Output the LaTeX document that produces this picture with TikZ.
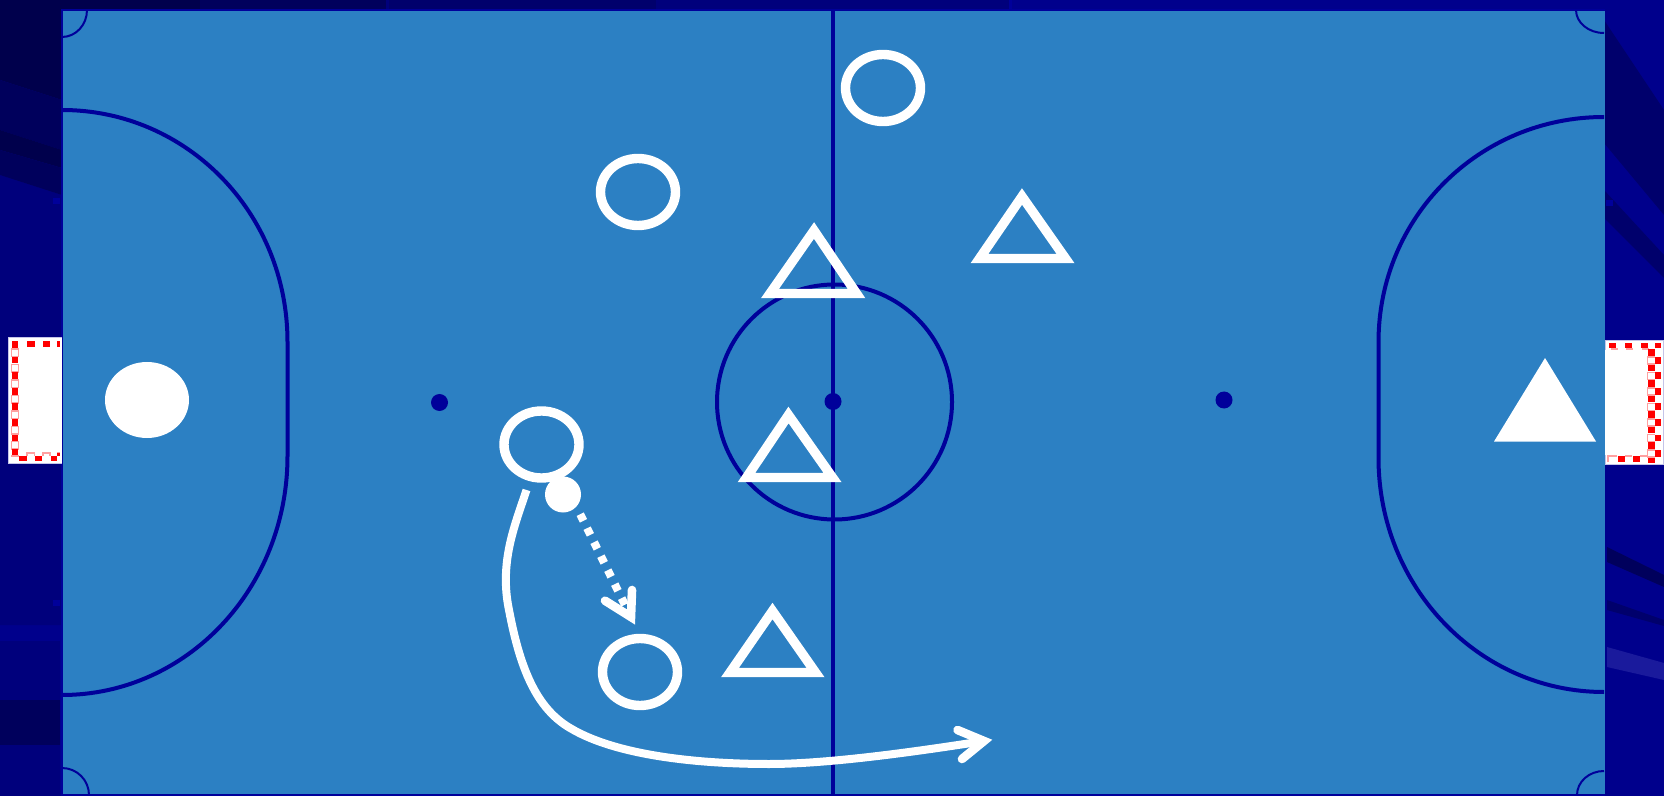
\documentclass[tikz,border=0pt]{standalone}
\usetikzlibrary{shapes.geometric}
\definecolor{fieldc}{HTML}{2C80C3}
\definecolor{linec}{HTML}{00009A}
\definecolor{bgc}{HTML}{00008C}
\definecolor{pinkc}{HTML}{FFA0A0}
\definecolor{framec}{HTML}{C4C4E8}
\definecolor{bga}{HTML}{00004C}
\definecolor{bgb}{HTML}{00005C}
\definecolor{bgd}{HTML}{00006C}
\definecolor{bge}{HTML}{00007C}
\definecolor{bgf}{HTML}{1A1A9C}
\tikzset{
  x=0.5pt,y=-0.5pt,
  courtline/.style={draw=linec,line width=2pt},
  thinline/.style={draw=linec,line width=1pt},
  player/.style={ellipse,draw=white,line width=4.7pt,minimum width=37.5pt,minimum height=33.5pt,inner sep=0pt,outer sep=0pt},
  keeper/.style={ellipse,fill=white,minimum width=42pt,minimum height=38pt,inner sep=0pt,outer sep=0pt},
  ballnode/.style={circle,fill=white,minimum size=18pt,inner sep=0pt,outer sep=0pt},
  spot/.style={circle,fill=linec,minimum size=8.5pt,inner sep=0pt,outer sep=0pt},
  opp/.style={draw=white,line width=4.7pt,miter limit=10,line join=miter},
  run/.style={draw=white,line width=4pt},
  head/.style={draw=white,line width=4.3pt,line cap=round,line join=miter,miter limit=10},
}
\newcommand{\rsq}[4]{\fill[red] (#1,#2) rectangle (#3,#4);}
\newcommand{\psq}[4]{\draw[pinkc,line width=0.8pt] (#1,#2) rectangle (#3,#4);}
\begin{document}
\begin{tikzpicture}
\useasboundingbox (0,0) rectangle (1664,796);
% backdrop
\fill[bgc] (0,0) rectangle (1664,796);
\fill[bge] (0,175) -- (62,195) -- (62,625) -- (0,625) -- cycle;
\fill[bge] (0,641) rectangle (60,796);
\fill[bga] (0,0) -- (62,0) -- (62,100) -- (0,80) -- cycle;
\fill[bgb] (0,80) -- (62,100) -- (62,150) -- (0,130) -- cycle;
\fill[bga] (0,130) -- (62,150) -- (62,168) -- (0,150) -- cycle;
\fill[bgb] (0,150) -- (62,168) -- (62,195) -- (0,175) -- cycle;
\fill[bgb] (0,700) rectangle (60,745);
\fill[bga] (62,0) rectangle (200,10);
\fill[bgb] (200,0) rectangle (386,10);
\fill[bgd] (386,0) rectangle (657,10);
\fill[bge] (657,0) rectangle (1010,10);
\fill[bge] (386,0) rectangle (389,10);
\fill[bge] (656,0) rectangle (659,10);
\fill[linec] (1009,0) rectangle (1012,10);
\fill[bgd] (1604,20) -- (1664,110) -- (1664,215) -- (1604,143) -- cycle;
\fill[bgd] (1604,190) -- (1664,255) -- (1664,278) -- (1604,218) -- cycle;
\fill[bgb] (1607,547) -- (1664,575) -- (1664,587) -- (1607,562) -- cycle;
\fill[bgd] (1607,600) -- (1664,620) -- (1664,626) -- (1607,610) -- cycle;
\fill[bgf] (1607,647) -- (1664,663) -- (1664,680) -- (1607,667) -- cycle;
\fill[linec] (53,198) rectangle (60,204);
\fill[linec] (53,600) rectangle (60,606);
\fill[linec] (1606,200) rectangle (1613,206);
% field
\fill[fieldc] (62,10) rectangle (1604.5,795);
\draw[linec,line width=1pt] (1604.5,10) -- (62,10) -- (62,795) -- (1604.5,795);
% goals
\fill[white] (8,338) rectangle (62,463);
\draw[framec,line width=0.5pt] (62,338) -- (8,338) -- (8,463) -- (62,463);
\foreach \y in {349,364.5,380,395.5,411,426.5,441.5}{\psq{11.5}{\y}{18.5}{\y+7.5}}
\foreach \y in {341.3,356.7,372,388,403.5,419,434.5,448.5}{\rsq{11.7}{\y}{18.3}{\y+6.8}}
\rsq{27.3}{341.3}{34.7}{347.5}\rsq{43}{341.3}{50}{347.5}\rsq{57}{341.3}{60}{347.5}
\draw[pinkc,line width=0.8pt] (11,456) -- (19,456) (27,456) -- (27,453) -- (34.5,453) -- (34.5,456) (43,456) -- (43,453) -- (50,453) -- (50,456) (57.5,456) -- (57.5,453) -- (60,453);
\rsq{19.3}{456}{26.7}{461}\rsq{35}{456}{42}{461}\rsq{50.5}{456}{57}{461}\rsq{57}{453}{60}{456}
\fill[white] (1604.5,341) rectangle (1664,464);
\draw[framec,line width=0.5pt] (1605,350) -- (1605,341) -- (1663.5,341) -- (1663.5,464) -- (1605,464) -- (1605,455);
\foreach \x in {1609,1625,1641}{\rsq{\x}{343}{\x+7.4}{348.5}}
\rsq{1655}{343}{1661}{348.5}
\foreach \x in {1611,1626,1642}{\draw[pinkc,line width=0.8pt] (\x,349) -- (\x+7,349);}
\foreach \y in {349,364.5,380,395.5,411,426.5,442,456.5}{\rsq{1648}{\y}{1655}{\y+6.8}}
\foreach \y in {357,372.5,388,403.5,419,434.5,450}{\rsq{1655}{\y}{1661}{\y+6.8}}
\foreach \y in {357,372.5,388,403.5,419,434.5,450}{\draw[pinkc,line width=0.8pt] (1655,\y) -- (1647.5,\y) -- (1647.5,\y+7) -- (1655,\y+7);}
\rsq{1618}{456}{1624.5}{462}\rsq{1633}{456}{1640}{462}
\draw[pinkc,line width=0.8pt] (1608,462) -- (1608,456) -- (1617,456) (1625,456) -- (1632,456) (1640,456) -- (1648,456);
% court lines
\draw[courtline,line width=1.6pt] (833,10) -- (833,795);
\node[circle,draw=linec,line width=2pt,minimum size=117.5pt,inner sep=0pt,outer sep=0pt] (centre) at (834.5,402) {};
\node[spot] (s1) at (833,401.5) {};
\node[spot] (s2) at (439.5,402.5) {};
\node[spot] (s3) at (1224,400) {};
\draw[courtline] (62,110) .. controls (187,110) and (287.5,213) .. (287.5,342) -- (287.5,456) .. controls (287.5,588) and (187,695) .. (62,695);
\draw[courtline] (1604,117) .. controls (1479,117) and (1378.5,217) .. (1378.5,342) -- (1378.5,458) .. controls (1378.5,587) and (1479,692) .. (1604,692);
\draw[thinline] (87,10) arc[start angle=0,end angle=90,x radius=25,y radius=27];
\draw[thinline] (1576,10) arc[start angle=180,end angle=90,x radius=28,y radius=23];
\draw[thinline] (89,795) arc[start angle=0,end angle=-90,x radius=27,y radius=27];
\draw[thinline] (1577,795) arc[start angle=180,end angle=270,x radius=27,y radius=24];
% players
\node[player] (p1) at (883,88) {};
\node[player] (p2) at (638,192) {};
\node[player] (p3) at (541.5,444.5) {};
\node[player] (p4) at (640,672) {};
\node[keeper] (k1) at (147,400) {};
\node[ballnode] (ball) at (563,494.5) {};
% opponents
\draw[opp] (814,230.5) -- (856.5,293.5) -- (770,293.5) -- cycle;
\draw[opp] (1022,196.5) -- (1065.5,258.5) -- (979.5,258.5) -- cycle;
\draw[opp] (788.5,415) -- (832.5,477.5) -- (746.5,477.5) -- cycle;
\draw[opp] (772.5,611) -- (815.5,672.5) -- (730,672.5) -- cycle;
\fill[white] (1545,358) -- (1596,441.5) -- (1494,441.5) -- cycle;
% runs
\coordinate (runstart) at (526.5,490);
\coordinate (runend) at (984,741);
\coordinate (passstart) at (580.2,514.2);
\coordinate (passend) at (627,609);
\draw[run] (runstart) .. controls (515,525) and (499,562) .. (509,610) .. controls (520,668) and (536,708) .. (570,728) .. controls (620,758) and (710,764) .. (769,764) .. controls (830,764) and (920,751) .. (runend);
\draw[head] (957.5,730) -- (runend) -- (962,759);
\draw[draw=white,line width=4pt,dash pattern=on 3.7pt off 4.1pt] (passstart) -- (passend);
\draw[head] (605,600.7) -- (631,617) -- (632,590);
\end{tikzpicture}
\end{document}
